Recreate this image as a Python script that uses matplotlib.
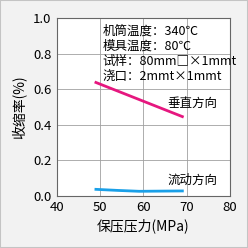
import matplotlib.pyplot as plt
from matplotlib.patches import Rectangle

plt.rcParams['font.family'] = ['Noto Sans CJK SC', 'DejaVu Sans']

pressure = [49, 54, 59, 64, 69]
vertical = [0.638, 0.590, 0.542, 0.494, 0.446]
flow = [0.037, 0.031, 0.026, 0.027, 0.028]

xticks = [40, 50, 60, 70, 80]
yticks = [0.0, 0.2, 0.4, 0.6, 0.8, 1.0]

info = "机筒温度：340℃\n模具温度：80℃\n试样：80mm□×1mmt\n浇口：2mmt×1mmt"

fig = plt.figure(figsize=(2.48, 2.48), dpi=100, facecolor='#f2f2f2')
fig.patches.append(Rectangle((0, 0), 1, 1, transform=fig.transFigure,
                             fill=False, edgecolor='#c4c4c4', linewidth=1.5))
ax = fig.add_axes([0.23, 0.21, 0.697, 0.717])
ax.set_facecolor('white')

ax.plot(pressure, vertical, color='#e6177f', linewidth=2)
ax.plot(pressure, flow, color='#1aa0e8', linewidth=2)

ax.text(50.5, 0.965, info, fontsize=9, va='top', ha='left', linespacing=1.22)
ax.text(65.5, 0.52, "垂直方向", fontsize=9, ha='left', va='center')
ax.text(65.5, 0.085, "流动方向", fontsize=9, ha='left', va='center')

ax.set_xlim(40, 80)
ax.set_ylim(0, 1.0)
ax.set_xticks(xticks)
ax.set_yticks(yticks)
ax.set_yticklabels(["%.1f" % v for v in yticks])
ax.tick_params(length=0, labelsize=9.5, pad=4)
ax.grid(color='#a0a0a0', linewidth=0.6)
ax.set_axisbelow(True)
for s in ax.spines.values():
    s.set_color('#666666')
    s.set_linewidth(0.8)

ax.set_xlabel("保压压力(MPa)", fontsize=10, labelpad=3)
ax.set_ylabel("收缩率(%)", fontsize=10)

fig.savefig('out.png', dpi=100, facecolor=fig.get_facecolor())
